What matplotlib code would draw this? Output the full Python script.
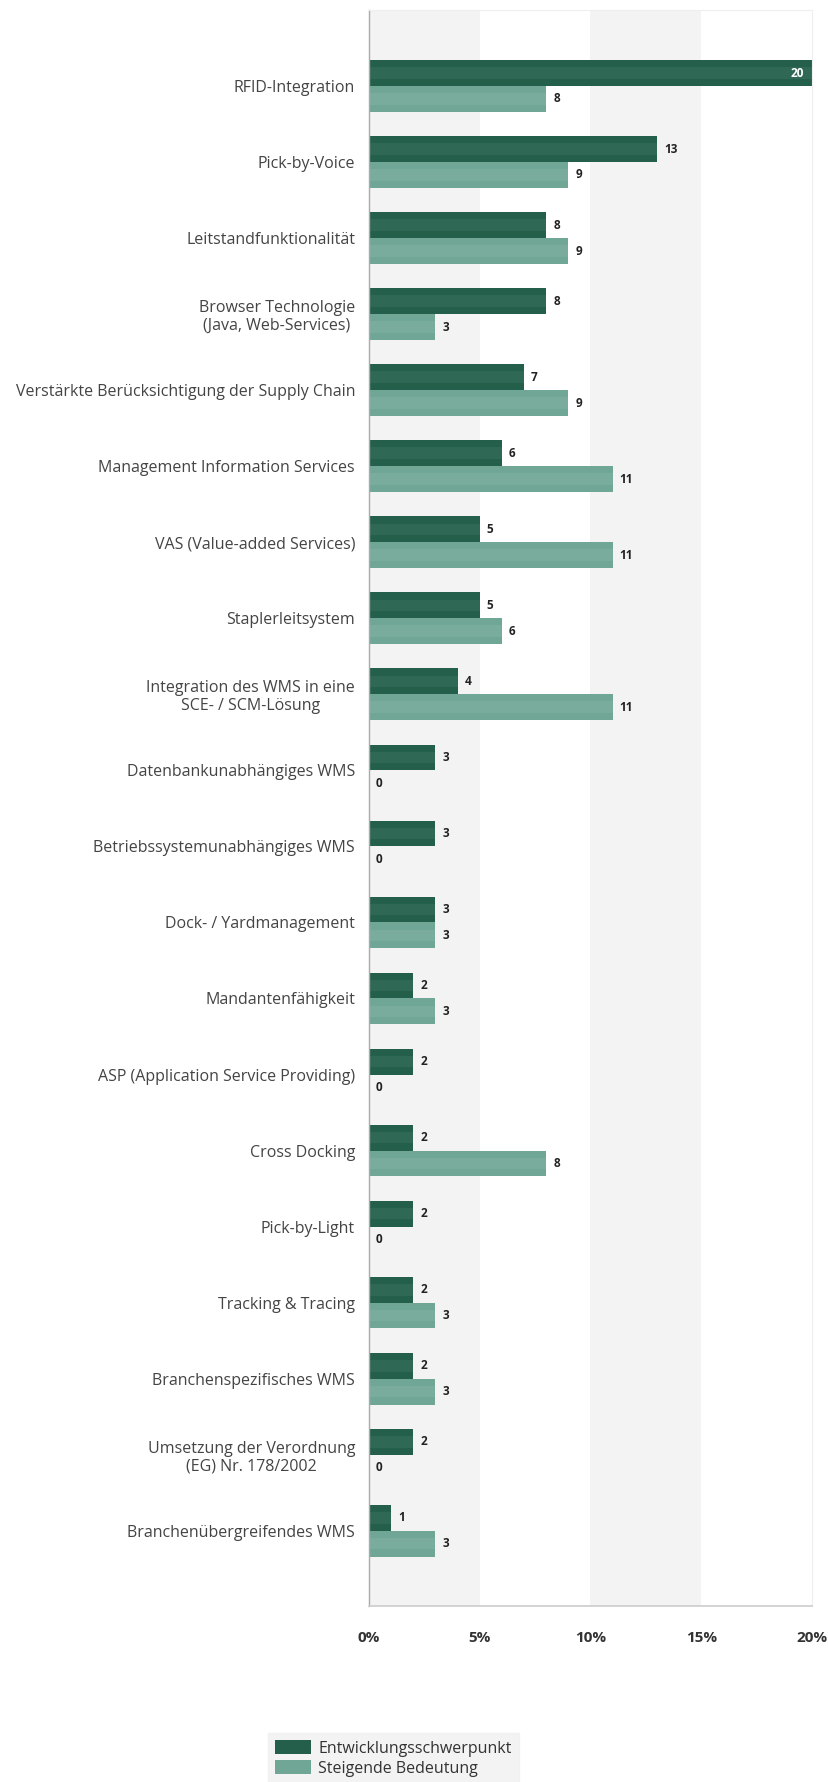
import matplotlib
matplotlib.use("Agg")
import matplotlib.pyplot as plt
import numpy as np
from matplotlib.patches import Patch

categories = [
    "RFID-Integration",
    "Pick-by-Voice",
    "Leitstandfunktionalität",
    "Browser Technologie\n(Java, Web-Services)",
    "Verstärkte Berücksichtigung der Supply Chain",
    "Management Information Services",
    "VAS (Value-added Services)",
    "Staplerleitsystem",
    "Integration des WMS in eine\nSCE- / SCM-Lösung",
    "Datenbankunabhängiges WMS",
    "Betriebssystemunabhängiges WMS",
    "Dock- / Yardmanagement",
    "Mandantenfähigkeit",
    "ASP (Application Service Providing)",
    "Cross Docking",
    "Pick-by-Light",
    "Tracking & Tracing",
    "Branchenspezifisches WMS",
    "Umsetzung der Verordnung\n(EG) Nr. 178/2002",
    "Branchenübergreifendes WMS",
]
entwicklung = [20, 13, 8, 8, 7, 6, 5, 5, 4, 3, 3, 3, 2, 2, 2, 2, 2, 2, 2, 1]
bedeutung = [8, 9, 9, 3, 9, 11, 11, 6, 11, 0, 0, 3, 3, 0, 8, 0, 3, 3, 0, 3]
series_names = ["Entwicklungsschwerpunkt", "Steigende Bedeutung"]
xticks = [0, 5, 10, 15, 20]
xtick_labels = ["0%", "5%", "10%", "15%", "20%"]

dark = "#235f4b"
light = "#6fa696"
font = "Open Sans"

W, H = 829, 1782
fig = plt.figure(figsize=(W / 100, H / 100), dpi=100)
ax = fig.add_axes([369 / W, 1 - 1606 / H, (812 - 369) / W, (1606 - 10) / H])

# alternating background bands
for i, x0 in enumerate(xticks[:-1]):
    if i % 2 == 0:
        ax.axvspan(x0, xticks[i + 1], color="#f3f3f3", zorder=0, lw=0)

y = np.arange(len(categories))
h = 0.34
ax.barh(y - h / 2, entwicklung, height=h, color=dark, zorder=2, lw=0)
ax.barh(y + h / 2, bedeutung, height=h, color=light, zorder=2, lw=0)
# subtle sheen in the middle of each bar
ax.barh(y - h / 2, entwicklung, height=h * 0.45, color="white", alpha=0.06, zorder=2.5, lw=0)
ax.barh(y + h / 2, bedeutung, height=h * 0.45, color="white", alpha=0.08, zorder=2.5, lw=0)

def px_to_data(px):
    return px * 20 / (812 - 369)

vfs = 8.5
for yi, v in zip(y, entwicklung):
    if v >= 20:
        ax.text(v - px_to_data(8), yi - h / 2, str(v), ha="right", va="center",
                fontsize=vfs, fontweight="bold", color="white", family=font, zorder=3)
    else:
        ax.text(v + px_to_data(7), yi - h / 2, str(v), ha="left", va="center",
                fontsize=vfs, fontweight="bold", color="#222222", family=font, zorder=3)
for yi, v in zip(y, bedeutung):
    ax.text(v + px_to_data(7), yi + h / 2, str(v), ha="left", va="center",
            fontsize=vfs, fontweight="bold", color="#222222", family=font, zorder=3)

ax.set_xlim(0, 20)
ax.set_ylim(len(categories) - 0.01, -1.0)
ax.set_yticks(y)
ax.set_yticklabels(categories, family=font, fontsize=11.5, color="#444444",
                   multialignment="center", linespacing=1.15)
ax.set_xticks(xticks)
ax.set_xticklabels(xtick_labels, family=font, fontsize=11, fontweight="bold",
                   color="#333333")
ax.tick_params(axis="both", length=0)
ax.tick_params(axis="y", pad=10)
ax.tick_params(axis="x", pad=18)

for s in ["top", "right"]:
    ax.spines[s].set_color("#eeeeee")
    ax.spines[s].set_linewidth(0.8)
ax.spines["left"].set_color("#aaaaaa")
ax.spines["left"].set_linewidth(1.0)
ax.spines["bottom"].set_color("#cccccc")
ax.spines["bottom"].set_linewidth(1.2)

handles = [Patch(facecolor=dark, edgecolor="none"), Patch(facecolor=light, edgecolor="none")]
leg = fig.legend(handles, series_names, loc="upper left",
                 bbox_to_anchor=(268 / W, 1 - 1733 / H),
                 prop={"family": font, "size": 11.5},
                 frameon=True, fancybox=False, borderaxespad=0,
                 handlelength=2.25, handleheight=1.0, handletextpad=0.45,
                 labelspacing=0.2, borderpad=0.45)
leg.get_frame().set_facecolor("#f0f0f0")
leg.get_frame().set_edgecolor("#f0f0f0")
for t in leg.get_texts():
    t.set_color("#333333")

fig.savefig("out.png", dpi=100, facecolor="white")
